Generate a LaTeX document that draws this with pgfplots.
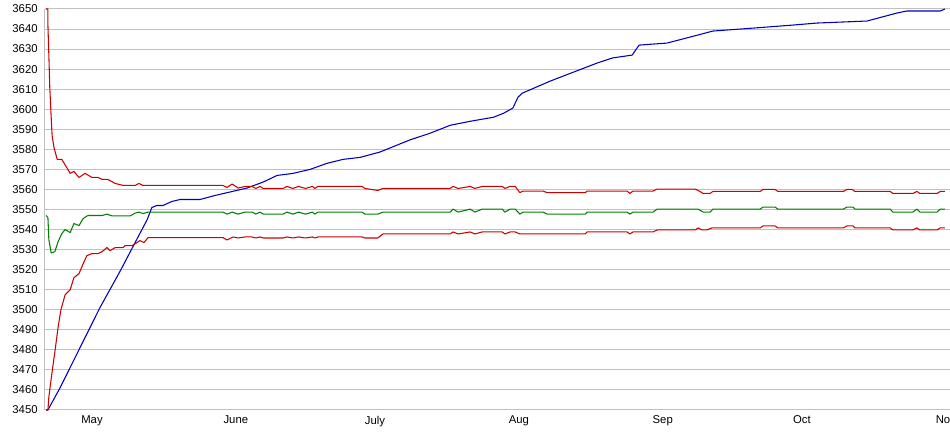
\documentclass[border=0pt]{standalone}
\usepackage{fontspec}
\setmainfont{Liberation Sans}
\usepackage{pgfplots}
\pgfplotsset{compat=1.18}
\definecolor{cred}{RGB}{204,0,0}
\definecolor{cblue}{RGB}{0,0,192}
\definecolor{cgreen}{RGB}{0,128,0}
\definecolor{cgrid}{RGB}{192,192,192}
\begin{document}
\begin{tikzpicture}
\begin{axis}[
  scale only axis,
  width=678.75pt, height=300.75pt,
  xmin=-10.13, xmax=184.9,
  ymin=3450, ymax=3650,
  ytick distance=10,
  xtick={0,31,61,92,123,153,184},
  xticklabels={May,June,July,Aug,Sep,Oct,Nov},
  ymajorgrids, grid style={cgrid, line width=0.75pt},
  axis x line*=bottom, axis y line*=left,
  axis line style={cgrid, line width=0.75pt, -},
  major tick length=0pt,
  /pgf/number format/1000 sep={},
  /pgf/number format/assume math mode=true,
  ticklabel style={font=\fontsize{8.5}{10}\selectfont, text=black},
  yticklabel style={xshift=-2pt},
  xticklabel style={yshift=-1pt},
  clip=false,
  every axis plot/.append style={line width=0.8pt, mark=none, line join=round},
]
\coordinate (SW) at (rel axis cs:0,0);
\coordinate (NE) at (rel axis cs:1,1);
% blue
\addplot[cblue] coordinates {
(-9.9,3450) (-9.5,3450) (-6.9,3461) (-1.1,3488) (1.7,3501) (6.0,3519) (11.9,3545) (12.9,3551) (14.0,3552) (15.3,3552) (17.2,3554) (19.0,3555) (23.3,3555) (26.5,3557) (29.7,3558.7) (33.4,3560.7) (36.9,3563.7) (39.9,3567) (43.3,3568) (47.0,3570) (50.6,3573) (54.1,3575) (57.8,3576) (62.1,3578.7) (68.5,3584.7) (72.8,3588) (77.2,3592) (81.5,3594) (86.5,3596) (88.7,3598) (90.7,3600.6) (91.8,3606) (92.7,3608) (98.7,3614) (108.8,3623) (112.2,3625.6) (116.4,3627) (117.9,3632) (123.9,3633) (128.9,3636) (133.8,3639) (139.7,3640) (145.5,3641) (151.1,3642) (156.3,3643) (167.0,3644) (173.5,3648) (175.6,3649) (182.8,3649) (183.8,3650)
};
% upper red
\addplot[cred] coordinates {
(-9.9,3650) (-9.5,3650) (-9.5,3642) (-9.3,3627) (-9.1,3611) (-8.8,3596) (-8.6,3587) (-8.2,3581) (-7.5,3575) (-6.5,3575) (-4.7,3568) (-3.9,3569) (-2.8,3566) (-1.5,3568) (0,3566) (1.3,3566) (2.2,3565) (3.4,3565) (5.0,3563) (6.7,3562) (9.3,3562) (10.1,3563) (11.0,3562) (28.2,3562) (29.1,3561) (30.2,3562.7) (31.5,3560.7) (33.0,3561.5) (34.5,3561.5) (35.3,3560.5) (36.2,3561.5) (36.9,3560.5) (41.2,3560.5) (42,3561.5) (43.3,3560.5) (44.5,3561.5) (46,3560.5) (47.5,3561.5) (48,3560.5) (48.7,3561.5) (58.2,3561.5) (58.8,3560.5) (61.6,3559.5) (62.7,3560.5) (77.2,3560.5) (77.8,3561.5) (78.9,3560.5) (81.5,3561.5) (82.5,3560.5) (84.1,3561.5) (88.4,3561.5) (89.0,3560.5) (90.1,3561.5) (91.2,3561.5) (92.2,3558.4) (92.9,3559.2) (97.2,3559.2) (98.1,3558.4) (106.3,3558.4) (106.7,3559.2) (115.3,3559.2) (115.9,3558) (116.6,3559.2) (120.9,3559.2) (121.8,3560.2) (130.0,3560.2) (131.0,3559) (131.7,3558) (133.2,3558) (133.8,3559) (144.0,3559) (144.6,3560) (147.2,3560) (147.8,3559) (161.9,3559) (162.7,3560) (163.8,3560) (164.4,3559) (172.0,3559) (172.6,3558) (176.9,3558) (177.8,3559) (178.4,3558) (182.1,3558) (182.8,3559) (183.8,3559)
};
% green
\addplot[cgreen] coordinates {
(-9.9,3547) (-9.5,3546) (-9.3,3535) (-8.8,3528.3) (-8.0,3529) (-7.3,3534) (-6.5,3538) (-5.8,3540) (-4.7,3538.5) (-3.9,3543) (-2.8,3542) (-1.9,3545.5) (-0.9,3547) (2.2,3547) (3.2,3547.7) (4.3,3546.8) (8.2,3546.8) (9.3,3548.2) (10.1,3548.7) (11.0,3548) (12.1,3548.7) (28.2,3548.7) (29.1,3547.7) (30.2,3548.7) (31.5,3547.7) (33.0,3548.7) (34.5,3548.7) (35.3,3547.7) (36.2,3548.7) (36.9,3547.7) (41.2,3547.7) (42,3548.7) (43.3,3547.7) (44.5,3548.7) (46,3547.7) (47.5,3548.7) (48,3547.7) (48.7,3548.7) (58.2,3548.7) (58.8,3547.7) (61.6,3547.7) (62.7,3548.7) (77.2,3548.7) (77.8,3550.2) (78.9,3548.7) (81.5,3550.2) (82.5,3548.7) (84.1,3550.2) (88.4,3550.2) (89.0,3548.7) (90.1,3550.2) (91.2,3550.2) (92.2,3547.7) (92.9,3548.7) (97.2,3548.7) (98.1,3547.7) (106.3,3547.7) (106.7,3548.7) (115.3,3548.7) (115.9,3547.7) (116.6,3548.7) (120.9,3548.7) (121.8,3550.2) (130.6,3550.2) (131.7,3548.7) (133.2,3548.7) (133.8,3550.2) (144.0,3550.2) (144.6,3551.2) (147.2,3551.2) (147.8,3550.2) (161.9,3550.2) (162.7,3551.2) (164.0,3551.2) (164.4,3550.2) (172.0,3550.2) (172.6,3548.7) (176.9,3548.7) (177.8,3550.2) (178.4,3548.7) (182.1,3548.7) (182.8,3550.2) (183.8,3550.2)
};
% lower red
\addplot[cred] coordinates {
(-9.9,3450) (-9.5,3450) (-9.3,3456.5) (-8.6,3469) (-8.0,3479) (-7.3,3491.4) (-6.7,3500) (-5.8,3507.4) (-4.7,3510) (-3.9,3516) (-2.8,3518) (-1.9,3523) (-1.1,3527) (0,3528) (1.3,3528) (2.2,3529) (3.2,3531) (3.9,3529.5) (5.0,3531) (6.7,3531) (7.1,3532) (8.6,3532) (9.7,3533.5) (10.3,3534.5) (11.2,3533.5) (12.1,3536) (28.2,3536) (29.1,3534.8) (30.4,3536.3) (31.5,3535.8) (33.0,3536.3) (34.5,3536.3) (35.3,3535.8) (36.2,3536.3) (36.9,3535.8) (41.2,3535.8) (42,3536.3) (43.3,3535.8) (44.5,3536.3) (46,3535.8) (47.5,3536.3) (48,3535.8) (48.7,3536.3) (58.2,3536.3) (58.8,3535.8) (61.6,3535.8) (62.7,3537.8) (77.2,3537.8) (77.8,3538.8) (78.9,3537.8) (81.5,3538.8) (82.5,3537.8) (84.1,3538.8) (88.4,3538.8) (89.0,3537.8) (90.1,3538.8) (91.2,3538.8) (92.2,3537.8) (106.3,3537.8) (106.7,3538.8) (115.3,3538.8) (115.9,3537.8) (116.6,3538.8) (120.9,3538.8) (121.8,3539.8) (130.0,3539.8) (130.6,3540.8) (131.5,3539.8) (132.5,3539.8) (133.6,3540.8) (144.0,3540.8) (144.6,3541.8) (147.2,3541.8) (147.8,3540.8) (161.9,3540.8) (162.7,3541.8) (164.0,3541.8) (164.4,3540.8) (172.0,3540.8) (172.6,3539.8) (176.9,3539.8) (177.8,3540.8) (178.4,3539.8) (182.1,3539.8) (182.8,3540.8) (183.8,3540.8)
};
\end{axis}
\pgfresetboundingbox
\path[use as bounding box] ([xshift=-33.75pt,yshift=-18.75pt]SW) rectangle ([yshift=6.75pt]NE);
\end{tikzpicture}
\end{document}
